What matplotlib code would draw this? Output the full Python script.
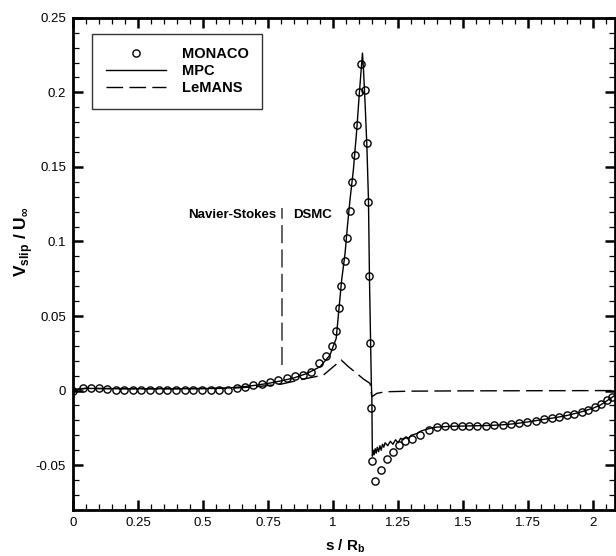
import matplotlib
matplotlib.use("Agg")
import matplotlib.pyplot as plt
from matplotlib.ticker import MultipleLocator, FixedLocator

plt.rcParams['font.family'] = ['Liberation Sans', 'DejaVu Sans']
plt.rcParams['mathtext.fontset'] = 'custom'
plt.rcParams['mathtext.rm'] = 'Liberation Sans'
plt.rcParams['mathtext.bf'] = 'Liberation Sans:bold'

# MONACO (DSMC) points
monaco_s = [0.0, 0.038, 0.070, 0.100, 0.131, 0.164, 0.196, 0.230, 0.262, 0.296,
            0.330, 0.362, 0.396, 0.430, 0.462, 0.496, 0.530, 0.562, 0.596, 0.630,
            0.662, 0.692, 0.726, 0.758, 0.788, 0.822, 0.854, 0.885, 0.916, 0.947,
            0.973, 0.995, 1.010, 1.022, 1.032, 1.045, 1.054, 1.065, 1.074, 1.083,
            1.091, 1.100, 1.109, 1.123, 1.130, 1.135, 1.137, 1.142, 1.146, 1.151,
            1.162, 1.185, 1.207, 1.230, 1.253, 1.275, 1.305, 1.336, 1.367, 1.399,
            1.431, 1.463, 1.495, 1.524, 1.555, 1.588, 1.620, 1.653, 1.683, 1.715,
            1.747, 1.780, 1.809, 1.841, 1.870, 1.899, 1.928, 1.956, 1.982, 2.008,
            2.030, 2.053, 2.072]
monaco_v = [0.0, 0.0019, 0.0015, 0.0015, 0.0013, 0.0004, 0.0004, 0.0004, 0.0006, 0.0006,
            0.0006, 0.0006, 0.0004, 0.0004, 0.0004, 0.0004, 0.0004, 0.0006, 0.0006, 0.0015,
            0.0026, 0.0035, 0.0044, 0.0055, 0.0069, 0.0082, 0.0095, 0.0105, 0.0125, 0.0183,
            0.0234, 0.0300, 0.0401, 0.0552, 0.0701, 0.0867, 0.1021, 0.1205, 0.1401, 0.1583,
            0.1782, 0.2003, 0.2187, 0.2019, 0.1659, 0.1263, 0.0768, 0.0317, -0.0115, -0.0473,
            -0.0609, -0.0536, -0.0460, -0.0409, -0.0364, -0.0338, -0.0322, -0.0300, -0.0265, -0.0243,
            -0.0236, -0.0236, -0.0238, -0.0238, -0.0238, -0.0236, -0.0234, -0.0229, -0.0225, -0.0220,
            -0.0211, -0.0203, -0.0193, -0.0185, -0.0176, -0.0167, -0.0156, -0.0142, -0.0129, -0.0113,
            -0.0093, -0.0064, -0.0042]

# MPC (hybrid) solid line
mpc_s = [0.0, 0.02, 0.05, 0.1, 0.2, 0.3, 0.4, 0.5, 0.6, 0.65,
         0.7, 0.75, 0.8, 0.85, 0.9, 0.95, 0.988, 1.012, 1.021, 1.033,
         1.046, 1.055, 1.065, 1.078, 1.091, 1.101, 1.110, 1.113, 1.117, 1.123,
         1.130, 1.136, 1.140, 1.145, 1.147, 1.149, 1.151, 1.155, 1.158, 1.162,
         1.166, 1.170, 1.175, 1.180, 1.185, 1.190, 1.195, 1.200, 1.210, 1.220,
         1.230, 1.240, 1.250, 1.260, 1.270, 1.280, 1.290, 1.300, 1.320, 1.340,
         1.360, 1.380, 1.400, 1.450, 1.500, 1.550, 1.600, 1.650, 1.700, 1.750,
         1.800, 1.850, 1.900, 1.950, 2.000, 2.030, 2.060, 2.085]
mpc_v = [0.0, 0.0012, 0.0015, 0.0013, 0.0012, 0.0012, 0.0012, 0.0013, 0.0018, 0.0025,
         0.0035, 0.0048, 0.0065, 0.0085, 0.0115, 0.0160, 0.0238, 0.0350, 0.0518, 0.0742,
         0.0920, 0.1100, 0.1280, 0.1480, 0.1750, 0.1995, 0.2196, 0.2263, 0.2150, 0.1928,
         0.1636, 0.1280, 0.0740, 0.0250, 0.0050, -0.0040, -0.0440, -0.0400, -0.0430, -0.0390,
         -0.0420, -0.0380, -0.0410, -0.0370, -0.0400, -0.0360, -0.0380, -0.0350, -0.0370, -0.0340,
         -0.0360, -0.0330, -0.0350, -0.0320, -0.0330, -0.0310, -0.0320, -0.0300, -0.0290, -0.0270,
         -0.0260, -0.0250, -0.0245, -0.0240, -0.0238, -0.0236, -0.0234, -0.0230, -0.0222, -0.0210,
         -0.0196, -0.0183, -0.0167, -0.0145, -0.0118, -0.0095, -0.0060, -0.0030]

# LeMANS (CFD) dashed line
lemans_s = [0.0, 0.05, 0.3, 0.6, 0.7, 0.8, 0.9, 0.963, 1.001, 1.031,
            1.059, 1.091, 1.117, 1.142, 1.149, 1.168, 1.2, 1.3, 1.5, 2.085]
lemans_v = [0.0, 0.0015, 0.0012, 0.0015, 0.0025, 0.0043, 0.0082, 0.0104, 0.0160, 0.0205,
            0.0160, 0.0115, 0.0077, 0.0048, -0.0042, -0.0019, -0.0008, -0.0004, -0.0002, 0.0]

interface_s = 0.803
interface_v = [0.017, 0.1225]

fig = plt.figure(figsize=(6.16, 5.56), dpi=100)
ax = fig.add_axes([0.1185, 0.083, 0.8795, 0.885])

long_dash = (12, 4.5)

ax.plot(monaco_s, monaco_v, linestyle='none', marker='o', markersize=5.2,
        markerfacecolor='none', markeredgecolor='black', markeredgewidth=1.0,
        label='MONACO')
ax.plot(mpc_s, mpc_v, color='black', linewidth=1.0, label='MPC')
ax.plot(lemans_s, lemans_v, color='black', linewidth=1.0, dashes=long_dash,
        label='LeMANS')

# Navier-Stokes / DSMC interface marker
ax.plot([interface_s, interface_s], interface_v, color='#555555', linewidth=1.3,
        dashes=(10, 3.5))
ax.text(interface_s - 0.022, 0.1175, 'Navier-Stokes', ha='right', va='center',
        fontsize=9.5, fontweight='bold')
ax.text(interface_s + 0.042, 0.1175, 'DSMC', ha='left', va='center',
        fontsize=9.5, fontweight='bold')

ax.set_xlim(0, 2.083)
ax.set_ylim(-0.08, 0.25)

ax.xaxis.set_major_locator(FixedLocator([0, 0.25, 0.5, 0.75, 1, 1.25, 1.5, 1.75, 2]))
ax.xaxis.set_minor_locator(MultipleLocator(0.05))
ax.yaxis.set_major_locator(FixedLocator([-0.05, 0, 0.05, 0.1, 0.15, 0.2, 0.25]))
ax.yaxis.set_minor_locator(MultipleLocator(0.01))
ax.set_xticklabels(['0', '0.25', '0.5', '0.75', '1', '1.25', '1.5', '1.75', '2'])
ax.set_yticklabels(['-0.05', '0', '0.05', '0.1', '0.15', '0.2', '0.25'])

ax.tick_params(which='both', direction='in', top=True, right=True, labelsize=9.5,
               colors='black')
ax.tick_params(which='major', length=7, width=1.8, pad=5)
ax.tick_params(which='minor', length=4, width=0.9)
for sp in ax.spines.values():
    sp.set_linewidth(2.0)

ax.set_xlabel(r'$\mathbf{s}$ / R$_{\mathbf{b}}$', fontsize=11, fontweight='bold')
ax.set_ylabel(r'V$_{\mathbf{slip}}$ / U$_{\mathbf{\infty}}$', fontsize=12.5,
              fontweight='bold')
ax.xaxis.set_label_coords(0.503, -0.055)
ax.yaxis.set_label_coords(-0.07, 0.545)

leg = ax.legend(loc='upper left', bbox_to_anchor=(0.035, 0.968), borderaxespad=0,
                frameon=True, fancybox=False, edgecolor='black', borderpad=0.95,
                handlelength=4.1, labelspacing=0.2, handletextpad=1.1,
                prop={'weight': 'bold', 'size': 10.5})
leg.get_frame().set_linewidth(1.0)

fig.savefig('out.png', dpi=100)
